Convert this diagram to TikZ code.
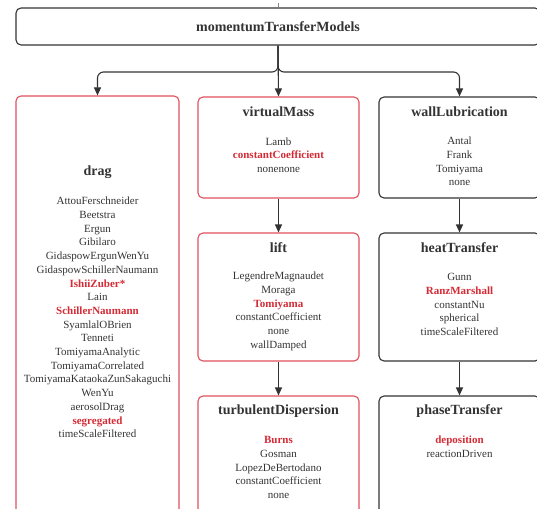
\documentclass[tikz,border=0pt]{standalone}
\usepackage{fontspec}
\setmainfont{Liberation Serif}
\usetikzlibrary{arrows.meta}
\definecolor{redb}{HTML}{E0505A}
\definecolor{redt}{HTML}{D42A35}
\definecolor{dark}{HTML}{333333}
\newcommand{\hl}[1]{\textcolor{redt}{\bfseries #1}}
\begin{document}
\begin{tikzpicture}[x=1pt,y=-1pt,
  dbox/.style={draw=dark, line width=1.1pt, rounded corners=5pt, inner sep=0pt, text=dark,
    font=\fontsize{14}{16}\selectfont\bfseries},
  rbox/.style={draw=redb, line width=1.1pt, rounded corners=5pt, inner sep=0pt},
  ttl/.style={text=dark, font=\fontsize{14}{16}\selectfont\bfseries, inner sep=0pt},
  items/.style={text=dark, font=\fontsize{11}{13.7}\selectfont, align=center, inner sep=0pt},
  arr/.style={draw=dark, line width=1.1pt, -{Triangle[length=8pt,width=7pt]}},
]
\useasboundingbox (0,0) rectangle (537,508);
\clip (0,0) rectangle (537,508);

% top
\node[dbox, minimum width=524pt, minimum height=37pt] (top) at (278,26.5) {momentumTransferModels};
\coordinate (topin) at (278,3);
\draw[draw=dark!60, line width=0.5pt] (topin) -- (top.north);

% boxes
\node[rbox, minimum width=163pt, minimum height=440pt] (drag) at (97.5,316) {};
\node[rbox, minimum width=161pt, minimum height=101pt] (vm) at (278.5,147.5) {};
\node[rbox, minimum width=161pt, minimum height=128pt] (lift) at (278.5,297) {};
\node[rbox, minimum width=161pt, minimum height=134pt] (turb) at (278.5,463) {};
\node[dbox, minimum width=161pt, minimum height=101pt] (wall) at (459.5,147.5) {};
\node[dbox, minimum width=161pt, minimum height=128pt] (heat) at (459.5,297) {};
\node[dbox, minimum width=161pt, minimum height=134pt] (phase) at (459.5,463) {};

% titles
\node[ttl] (dragT) at (97.5,172) {drag};
\node[ttl] (vmT) at (278.5,112) {virtualMass};
\node[ttl] (liftT) at (278.5,248) {lift};
\node[ttl] (turbT) at (278.5,411) {turbulentDispersion};
\node[ttl] (wallT) at (459.5,112) {wallLubrication};
\node[ttl] (heatT) at (459.5,248) {heatTransfer};
\node[ttl] (phaseT) at (459.5,411) {phaseTransfer};

% items
\node[items] (dragL) at (97.5,317.5) {AttouFerschneider\\Beetstra\\Ergun\\Gibilaro\\GidaspowErgunWenYu\\GidaspowSchillerNaumann\\\hl{IshiiZuber*}\\Lain\\\hl{SchillerNaumann}\\SyamlalOBrien\\Tenneti\\TomiyamaAnalytic\\TomiyamaCorrelated\\TomiyamaKataokaZunSakaguchi\\WenYu\\aerosolDrag\\\hl{segregated}\\timeScaleFiltered};
\node[items] (vmL) at (278.5,155) {Lamb\\\hl{constantCoefficient}\\nonenone};
\node[items] (liftL) at (278.5,311.5) {LegendreMagnaudet\\Moraga\\\hl{Tomiyama}\\constantCoefficient\\none\\wallDamped};
\node[items] (turbL) at (278.5,467.5) {\hl{Burns}\\Gosman\\LopezDeBertodano\\constantCoefficient\\none};
\node[items] (wallL) at (459.5,161.5) {Antal\\Frank\\Tomiyama\\none};
\node[items] (heatL) at (459.5,304.5) {Gunn\\\hl{RanzMarshall}\\constantNu\\spherical\\timeScaleFiltered};
\node[items] (phaseL) at (459.5,447) {\hl{deposition}\\reactionDriven};

% connectors
\coordinate (split) at (278,72);
\draw[arr] (top.south) -- (vm.north);
\draw[arr, rounded corners=6pt] (top.south) -- (split) -| (drag.north);
\draw[arr, rounded corners=6pt] (top.south) -- (split) -| (wall.north);
\draw[arr] (vm.south) -- (lift.north);
\draw[arr] (lift.south) -- (turb.north);
\draw[arr] (wall.south) -- (heat.north);
\draw[arr] (heat.south) -- (phase.north);
\end{tikzpicture}
\end{document}
